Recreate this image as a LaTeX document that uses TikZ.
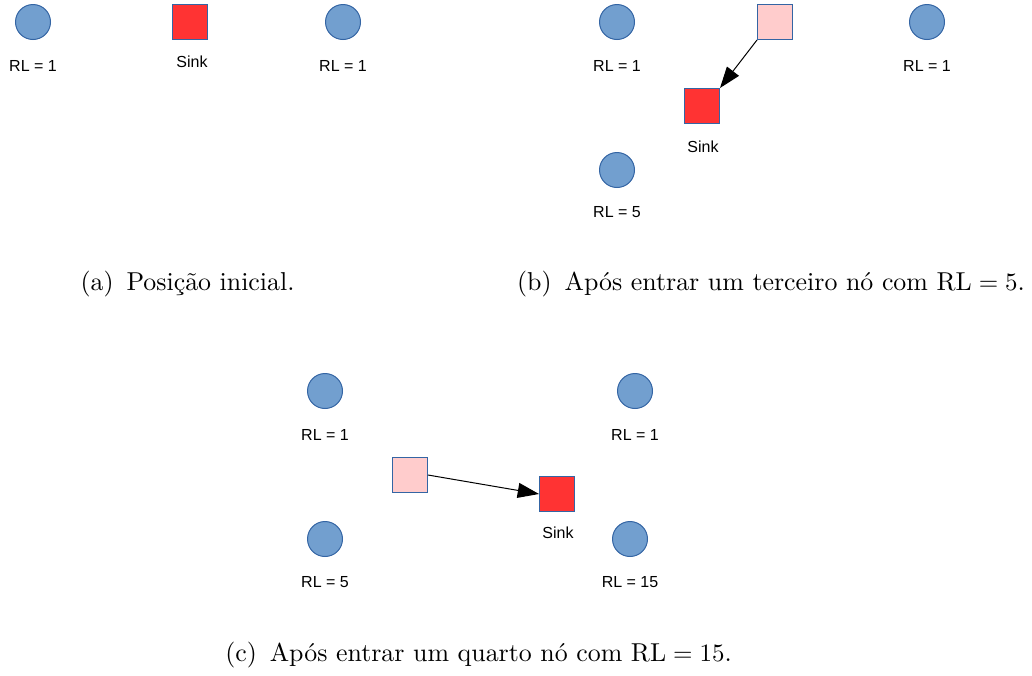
\documentclass[tikz,border=0pt]{standalone}
\usepackage{fontspec}
\usepackage{xcolor}
\usepackage{tikz}
\usetikzlibrary{arrows.meta}

\newfontfamily\labelfont{Liberation Sans}

\definecolor{nodeblue}{HTML}{729FCF}
\definecolor{edgeblue}{HTML}{3465A4}
\definecolor{sinkred}{HTML}{FF3333}
\definecolor{oldpink}{HTML}{FFCCCC}

\tikzset{
  sensor/.style={circle, fill=nodeblue, draw=edgeblue, line width=0.4pt, minimum size=14pt, inner sep=0pt},
  sinkbox/.style={rectangle, fill=sinkred, draw=edgeblue, line width=0.4pt, minimum size=14pt, inner sep=0pt},
  oldbox/.style={rectangle, fill=oldpink, draw=edgeblue, line width=0.4pt, minimum size=14pt, inner sep=0pt},
  rl/.style={font=\labelfont\fontsize{6.4}{7.5}\selectfont, inner sep=0pt},
  subcap/.style={font=\fontsize{10.35}{12}\selectfont, inner sep=0pt},
  move/.style={-{Triangle[length=8.5pt,width=6pt]}, line width=0.4pt}
}

\begin{document}
\begin{tikzpicture}[x=0.4pt, y=-0.4pt]
        \useasboundingbox (0,0) rectangle (1032,675);

        % (a)
        \node[sensor] (a1) at (33,22) {};
        \node[sinkbox] (asink) at (190,22) {};
        \node[sensor] (a2) at (343,22) {};
        \node[rl] (la1) at (33,66) {RL = 1};
        \node[rl] (lasink) at (192,62) {Sink};
        \node[rl] (la2) at (343,66) {RL = 1};
        \node[subcap] (capa) at (187.5,284) {(a)\enspace Posição inicial.};

        % (b)
        \node[sensor] (b1) at (617,22) {};
        \node[oldbox] (bold) at (775,22) {};
        \node[sensor] (b2) at (927,22) {};
        \node[sinkbox] (bsink) at (702,106) {};
        \node[sensor] (b3) at (617,170) {};
        \node[rl] (lb1) at (617,66) {RL = 1};
        \node[rl] (lb2) at (927,66) {RL = 1};
        \node[rl] (lbsink) at (703,147) {Sink};
        \node[rl] (lb3) at (617,212) {RL = 5};
        \node[subcap] (capb) at (771,284) {(b)\enspace Após entrar um terceiro nó com $\mathrm{RL} = 5$.};

        \draw[move] (bold.south west) -- (bsink.north east);

        % (c)
        \node[sensor] (c1) at (325,391) {};
        \node[sensor] (c2) at (635,391) {};
        \node[oldbox] (cold) at (410,475) {};
        \node[sinkbox] (csink) at (557,494) {};
        \node[sensor] (c3) at (325,539) {};
        \node[sensor] (c4) at (630,539) {};
        \node[rl] (lc1) at (325,435) {RL = 1};
        \node[rl] (lc2) at (635,435) {RL = 1};
        \node[rl] (lcsink) at (558,533) {Sink};
        \node[rl] (lc3) at (325,582) {RL = 5};
        \node[rl] (lc4) at (630,582) {RL = 15};
        \node[subcap] (capc) at (478.5,655) {(c)\enspace Após entrar um quarto nó com $\mathrm{RL} = 15$.};

        \draw[move] (cold.east) -- (csink.west);
    \end{tikzpicture}
\end{document}
